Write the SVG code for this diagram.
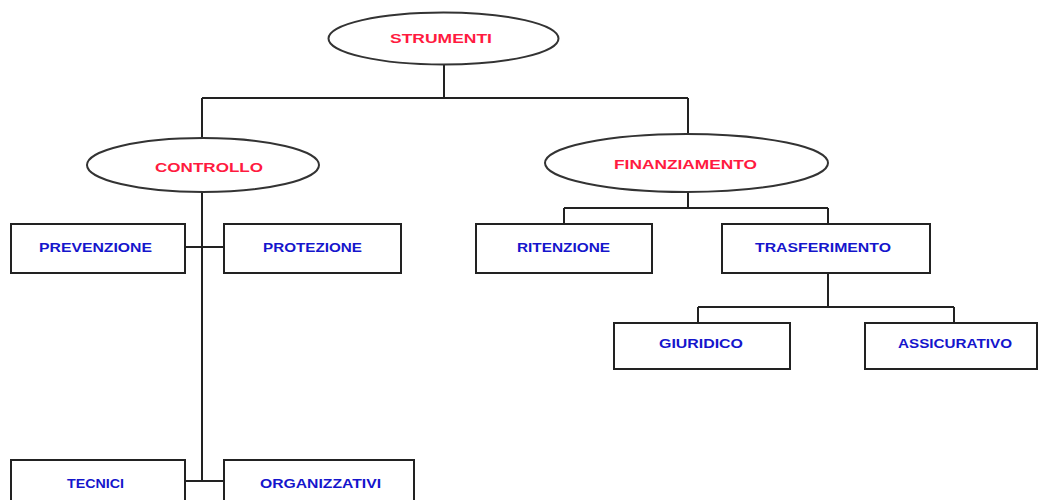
<svg xmlns="http://www.w3.org/2000/svg" width="1038" height="500" viewBox="0 0 1038 500">
<style>
.ell{fill:#fff;stroke:#333;stroke-width:2}
.box{fill:#fff;stroke:#222;stroke-width:2}
.lnk{fill:none;stroke:#222;stroke-width:2}
.rt{font-family:"Liberation Sans",Arial,sans-serif;font-size:13px;font-weight:bold;fill:#ff1a40;text-anchor:middle;dominant-baseline:central}
.bt{font-family:"Liberation Sans",Arial,sans-serif;font-size:13px;font-weight:bold;fill:#1515cc;text-anchor:middle;dominant-baseline:central}
</style>
<rect width="1038" height="500" fill="#fff"/>
<g id="connectors">
<path class="lnk" d="M444 65 V98 M202 98 H688 M202 98 V138 M688 98 V134"/>
<path class="lnk" d="M202 192 V481 M185 247 H224 M185 481 H224"/>
<path class="lnk" d="M688 192 V208 M564 208 H828 M564 208 V224 M828 208 V224"/>
<path class="lnk" d="M828 273 V307 M698 307 H954 M698 307 V323 M954 307 V323"/>
</g>
<g id="strumenti"><ellipse class="ell" cx="443.5" cy="38.5" rx="115" ry="26"/><text class="rt" x="441" y="38" textLength="102" lengthAdjust="spacingAndGlyphs">STRUMENTI</text></g>
<g id="controllo"><ellipse class="ell" cx="203" cy="165" rx="116" ry="27"/><text class="rt" x="209" y="167" textLength="108" lengthAdjust="spacingAndGlyphs">CONTROLLO</text></g>
<g id="finanziamento"><ellipse class="ell" cx="686.5" cy="163" rx="141.5" ry="29"/><text class="rt" x="685.5" y="164" textLength="143" lengthAdjust="spacingAndGlyphs">FINANZIAMENTO</text></g>
<g id="prevenzione"><rect class="box" x="11" y="224" width="174" height="49"/><text class="bt" x="95.5" y="247" textLength="113" lengthAdjust="spacingAndGlyphs">PREVENZIONE</text></g>
<g id="protezione"><rect class="box" x="224" y="224" width="177" height="49"/><text class="bt" x="312.5" y="247" textLength="99" lengthAdjust="spacingAndGlyphs">PROTEZIONE</text></g>
<g id="ritenzione"><rect class="box" x="476" y="224" width="176" height="49"/><text class="bt" x="563.5" y="247" textLength="93" lengthAdjust="spacingAndGlyphs">RITENZIONE</text></g>
<g id="trasferimento"><rect class="box" x="722" y="224" width="208" height="49"/><text class="bt" x="823" y="247" textLength="136" lengthAdjust="spacingAndGlyphs">TRASFERIMENTO</text></g>
<g id="giuridico"><rect class="box" x="614" y="323" width="176" height="46"/><text class="bt" x="701" y="343" textLength="84" lengthAdjust="spacingAndGlyphs">GIURIDICO</text></g>
<g id="assicurativo"><rect class="box" x="865" y="323" width="172" height="46"/><text class="bt" x="955" y="343" textLength="114" lengthAdjust="spacingAndGlyphs">ASSICURATIVO</text></g>
<g id="tecnici"><rect class="box" x="11" y="460" width="174" height="50"/><text class="bt" x="95.5" y="483" textLength="57" lengthAdjust="spacingAndGlyphs">TECNICI</text></g>
<g id="organizzativi"><rect class="box" x="224" y="460" width="190" height="50"/><text class="bt" x="320.5" y="483" textLength="121" lengthAdjust="spacingAndGlyphs">ORGANIZZATIVI</text></g>
</svg>
